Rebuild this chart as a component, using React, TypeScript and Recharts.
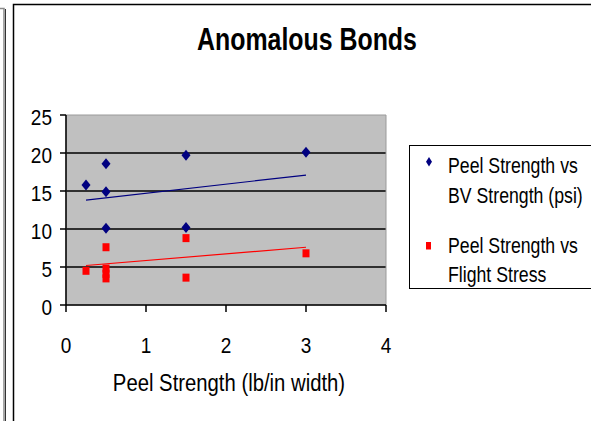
import { CartesianGrid, ReferenceArea, Scatter, ScatterChart, XAxis, YAxis } from "recharts"

const FONT = '"Liberation Sans", Arial, sans-serif'
const NAVY = "#000080"
const RED = "#ff0000"

// Peel strength (lb/in width) against bond strength readings
const X_TICKS = [0, 1, 2, 3, 4]
const Y_TICKS = [0, 5, 10, 15, 20, 25]
const GRID_VALUES = [5, 10, 15, 20]

const bvStrength = [
  { x: 0.25, y: 15.8 },
  { x: 0.5, y: 18.6 },
  { x: 0.5, y: 14.9 },
  { x: 0.5, y: 10.1 },
  { x: 1.5, y: 19.7 },
  { x: 1.5, y: 10.2 },
  { x: 3, y: 20.1 },
]

const flightStress = [
  { x: 0.25, y: 4.5 },
  { x: 0.5, y: 7.6 },
  { x: 0.5, y: 4.8 },
  { x: 0.5, y: 4.1 },
  { x: 0.5, y: 3.5 },
  { x: 1.5, y: 8.8 },
  { x: 1.5, y: 3.6 },
  { x: 3, y: 6.8 },
]

// linear trendline endpoints
const bvTrend = [
  { x: 0.25, y: 13.8 },
  { x: 3, y: 17.1 },
]
const stressTrend = [
  { x: 0.25, y: 5.2 },
  { x: 3, y: 7.6 },
]

const Diamond = (props: any) => {
  const { cx, cy } = props
  return (
    <polygon
      points={`${cx},${cy - 5.5} ${cx + 4.5},${cy} ${cx},${cy + 5.5} ${cx - 4.5},${cy}`}
      fill={NAVY}
    />
  )
}

const Square = (props: any) => {
  const { cx, cy } = props
  return <rect x={cx - 3.5} y={cy - 4} width={7} height={8} fill={RED} />
}

const NoMark = () => <g />

// text is drawn stretched vertically, like the old Excel export
function Txt({
  x,
  y,
  size,
  anchor = "start",
  bold = false,
  sy = 1.2,
  children,
}: {
  x: number
  y: number
  size: number
  anchor?: "start" | "middle" | "end"
  bold?: boolean
  sy?: number
  children: React.ReactNode
}) {
  return (
    <g transform={`translate(${x},${y}) scale(1,${sy})`}>
      <text
        x={0}
        y={0}
        textAnchor={anchor}
        fontFamily={FONT}
        fontSize={size}
        fontWeight={bold ? "bold" : "normal"}
        fill="#000"
      >
        {children}
      </text>
    </g>
  )
}

const XTick = (props: any) => {
  const { x, y, payload } = props
  return (
    <Txt x={x} y={y + 39} size={19} anchor="middle" sy={1.17}>
      {payload.value}
    </Txt>
  )
}

const YTick = (props: any) => {
  const { x, y, payload } = props
  return (
    <Txt x={x - 6} y={y + 10} size={19} anchor="end" sy={1.15}>
      {payload.value}
    </Txt>
  )
}

export default function App() {
  return (
    <div
      style={{
        position: "absolute",
        left: 0,
        top: 0,
        width: 591,
        height: 421,
        overflow: "hidden",
        background: "#fff",
      }}
    >
      <ScatterChart
        width={591}
        height={421}
        margin={{ top: 115, right: 205, bottom: 76, left: 16 }}
      >
        <CartesianGrid
          fill="#c0c0c0"
          fillOpacity={1}
          vertical={false}
          horizontalValues={GRID_VALUES}
          stroke="#000"
          strokeWidth={1.5}
        />
        <ReferenceArea
          x1={0}
          x2={4}
          y1={0}
          y2={25}
          fill="none"
          fillOpacity={0}
          stroke="#9a9a9a"
          strokeWidth={1}
        />
        <XAxis
          type="number"
          dataKey="x"
          domain={[0, 4]}
          ticks={X_TICKS}
          height={40}
          tickSize={7}
          axisLine={{ stroke: "#000", strokeWidth: 1.5 }}
          tickLine={{ stroke: "#000", strokeWidth: 1.5 }}
          tick={XTick}
          allowDataOverflow
        />
        <YAxis
          type="number"
          dataKey="y"
          domain={[0, 25]}
          ticks={Y_TICKS}
          width={50}
          tickSize={6}
          axisLine={{ stroke: "#000", strokeWidth: 1.5 }}
          tickLine={{ stroke: "#000", strokeWidth: 1.5 }}
          tick={YTick}
          allowDataOverflow
        />
        <Scatter
          data={bvTrend}
          line={{ stroke: NAVY, strokeWidth: 1.2 }}
          shape={NoMark}
          isAnimationActive={false}
        />
        <Scatter
          data={stressTrend}
          line={{ stroke: RED, strokeWidth: 1.2 }}
          shape={NoMark}
          isAnimationActive={false}
        />
        <Scatter data={bvStrength} shape={Diamond} isAnimationActive={false} />
        <Scatter data={flightStress} shape={Square} isAnimationActive={false} />
      </ScatterChart>

      <svg
        width={591}
        height={421}
        style={{ position: "absolute", left: 0, top: 0, pointerEvents: "none" }}
      >
        {/* frame edges */}
        <polyline points="0,8.5 4,8.5 4,421" fill="none" stroke="#8a8a8a" strokeWidth={1.5} />
        <line x1={5.5} y1={9} x2={5.5} y2={421} stroke="#333" strokeWidth={1} />
        <rect x={13.5} y={4.5} width={600} height={500} fill="none" stroke="#000" strokeWidth={1.5} />

        <Txt x={307} y={50} size={24.9} anchor="middle" bold sy={1.24}>
          Anomalous Bonds
        </Txt>
        <Txt x={229} y={391} size={20.3} anchor="middle" sy={1.22}>
          Peel Strength (lb/in width)
        </Txt>

        {/* legend */}
        <rect x={409.5} y={145.5} width={200} height={143} fill="none" stroke="#000" strokeWidth={1} />
        <polygon points="429,157 432,161.7 429,166.4 426,161.7" fill={NAVY} />
        <Txt x={448} y={173} size={17.7} sy={1.26}>
          Peel Strength vs
        </Txt>
        <Txt x={448} y={203} size={17.7} sy={1.26}>
          BV Strength (psi)
        </Txt>
        <rect x={426} y={242} width={5} height={7.5} fill={RED} />
        <Txt x={448} y={253} size={17.7} sy={1.26}>
          Peel Strength vs
        </Txt>
        <Txt x={448} y={282} size={17.7} sy={1.26}>
          Flight Stress
        </Txt>
      </svg>
    </div>
  )
}
